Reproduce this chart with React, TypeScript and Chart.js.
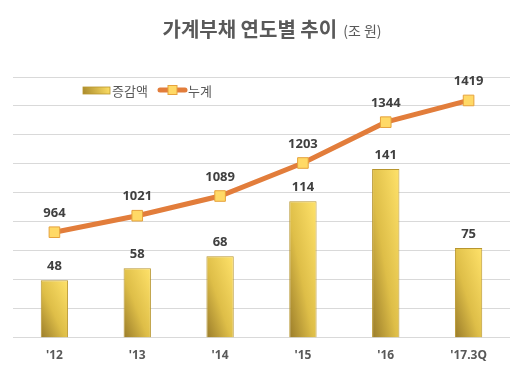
import React, { useEffect, useRef } from "react";
import { Chart, registerables } from "chart.js";

Chart.register(...registerables);

const categories = ["'12", "'13", "'14", "'15", "'16", "'17.3Q"];
const changeValues = [48, 58, 68, 114, 141, 75];
const totalValues = [964, 1021, 1089, 1203, 1344, 1419];
const titleMain = "가계부채 연도별 추이";
const titleUnit = "(조 원)";
const legendBar = "증감액";
const legendLine = "누계";

const KR = '"Noto Sans CJK KR", "Noto Sans", sans-serif';

export default function App() {
  const ref = useRef<HTMLCanvasElement | null>(null);

  useEffect(() => {
    const canvas = ref.current;
    if (!canvas) return;

    const overlay = {
      id: "overlay",
      afterDatasetsDraw(chart: any) {
        const ctx = chart.ctx;
        ctx.save();
        ctx.fillStyle = "#404040";
        ctx.textAlign = "center";
        ctx.textBaseline = "middle";
        ctx.font = 'bold 13px "Noto Sans", sans-serif';
        const barMeta = chart.getDatasetMeta(0);
        barMeta.data.forEach((el: any, i: number) => {
          ctx.fillText(String(changeValues[i]), el.x, el.y - 14);
        });
        const lineMeta = chart.getDatasetMeta(1);
        lineMeta.data.forEach((el: any, i: number) => {
          ctx.fillText(String(totalValues[i]), el.x, el.y - 19);
        });
        ctx.restore();
      },
      afterDraw(chart: any) {
        const ctx = chart.ctx;
        ctx.save();
        ctx.textBaseline = "middle";
        ctx.textAlign = "left";
        ctx.font = `bold 20px ${KR}`;
        const w1 = ctx.measureText(titleMain).width;
        ctx.font = `14px ${KR}`;
        const w2 = ctx.measureText(titleUnit).width;
        const gap = 6;
        const total = w1 + gap + w2;
        const sx = 272 - total / 2;
        ctx.fillStyle = "#595959";
        ctx.font = `bold 20px ${KR}`;
        ctx.fillText(titleMain, sx, 29);
        ctx.font = `14px ${KR}`;
        ctx.fillText(titleUnit, sx + w1 + gap, 31);

        const ly = 90;
        const g = ctx.createLinearGradient(83, ly + 4, 110, ly - 4);
        g.addColorStop(0, "#A98A2C");
        g.addColorStop(1, "#FFE066");
        ctx.fillStyle = g;
        ctx.fillRect(83, ly - 3, 27, 7);
        ctx.strokeStyle = "#B8962E";
        ctx.lineWidth = 0.8;
        ctx.strokeRect(83, ly - 3, 27, 7);
        ctx.fillStyle = "#595959";
        ctx.font = `13px ${KR}`;
        ctx.fillText(legendBar, 112, ly + 1);

        ctx.strokeStyle = "#E27D3B";
        ctx.lineWidth = 5;
        ctx.lineCap = "round";
        ctx.beginPath();
        ctx.moveTo(160, ly);
        ctx.lineTo(185, ly);
        ctx.stroke();
        ctx.fillStyle = "#FFD966";
        ctx.fillRect(168, ly - 4.5, 9, 9);
        ctx.strokeStyle = "#E6A23C";
        ctx.lineWidth = 1;
        ctx.strokeRect(168, ly - 4.5, 9, 9);
        ctx.fillStyle = "#595959";
        ctx.fillText(legendLine, 188, ly + 1);
        ctx.restore();
      },
    };

    const barBg = (c: any) => {
      const chart = c.chart;
      const xs = chart.scales && chart.scales.x;
      const ys = chart.scales && chart.scales.yBar;
      if (!chart.chartArea || !xs || !ys || c.dataIndex === undefined) return "#E8C547";
      const x = xs.getPixelForValue(c.dataIndex);
      const top = ys.getPixelForValue(changeValues[c.dataIndex]);
      const base = ys.getPixelForValue(0);
      const w = 27;
      const h = base - top;
      if (![x, top, base].every((v) => Number.isFinite(v)) || h <= 0) return "#E8C547";
      const cy = (base + top) / 2;
      const L2 = h * h + w * w;
      const k = (w * h) / L2;
      const dx = k * h;
      const dy = -k * w;
      const g = chart.ctx.createLinearGradient(x - dx, cy - dy, x + dx, cy + dy);
      g.addColorStop(0, "#9A7C2A");
      g.addColorStop(0.45, "#DEBE48");
      g.addColorStop(1, "#FFE26A");
      return g;
    };

    const chart = new Chart(canvas, {
      data: {
        labels: categories,
        datasets: [
          {
            type: "bar",
            label: legendBar,
            data: changeValues,
            yAxisID: "yBar",
            backgroundColor: barBg as any,
            borderColor: "#B8962E",
            borderWidth: 1,
            categoryPercentage: 1,
            barPercentage: 0.33,
            order: 2,
          },
          {
            type: "line",
            label: legendLine,
            data: totalValues,
            yAxisID: "yLine",
            borderColor: "#E27D3B",
            borderWidth: 5,
            pointStyle: "rect",
            pointRadius: 7.5,
            pointBackgroundColor: "#FFD966",
            pointBorderColor: "#E6A23C",
            pointBorderWidth: 1,
            tension: 0,
            order: 1,
          },
        ],
      },
      options: {
        animation: false,
        responsive: false,
        maintainAspectRatio: false,
        layout: { padding: { left: 13, right: 17, top: 77, bottom: 12 } },
        plugins: {
          legend: { display: false },
          title: { display: false },
          tooltip: { enabled: false },
        },
        scales: {
          x: {
            grid: { display: false },
            border: { display: false },
            ticks: {
              color: "#595959",
              font: { family: '"Noto Sans", sans-serif', size: 12, weight: "bold" },
              padding: 3,
            },
          },
          yLine: {
            position: "left",
            min: 600,
            max: 1500,
            ticks: { display: false, stepSize: 100 },
            grid: { color: "#D9D9D9", drawTicks: false, lineWidth: 1 },
            border: { display: false },
          },
          yBar: {
            position: "right",
            display: false,
            min: 0,
            max: 218,
          },
        },
      } as any,
      plugins: [overlay],
    });

    return () => chart.destroy();
  }, []);

  return (
    <div style={{ position: "fixed", left: 0, top: 0, width: 527, height: 378, background: "#fff" }}>
      <canvas ref={ref} width={527} height={378} style={{ width: 527, height: 378 }} />
    </div>
  );
}
